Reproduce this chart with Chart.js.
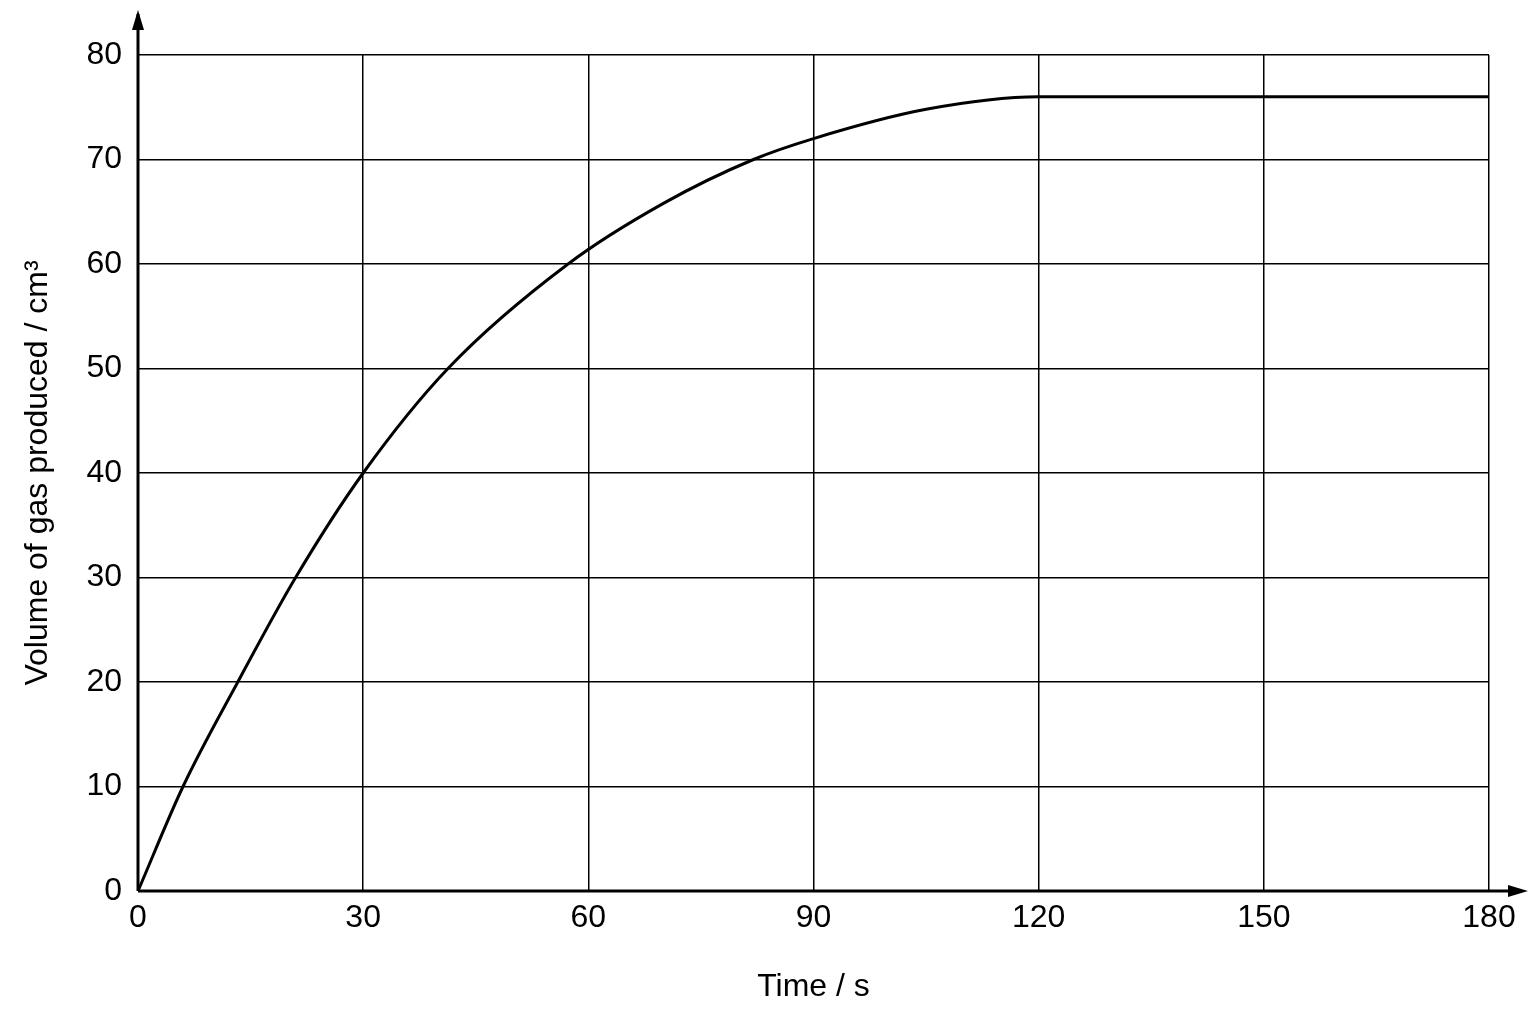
<!DOCTYPE html>
<html>
<head>
<meta charset="utf-8">
<script src="https://cdn.jsdelivr.net/npm/chart.js@4/dist/chart.umd.min.js"></script>
<style>
  html, body { margin: 0; padding: 0; background: #fff; }
  #wrap { width: 1536px; height: 1024px; }
</style>
</head>
<body>
<div id="wrap"><canvas id="c"></canvas></div>
<script>
// time in seconds, volume in cm3
const times = [0, 6, 13.3, 21, 30, 41.3, 57.3, 70, 82, 90, 105, 120, 150, 180];
const volumes = [0, 10, 20, 30, 40, 50, 60, 65.8, 70, 72, 74.8, 76, 76, 76];
const xTicks = [0, 30, 60, 90, 120, 150, 180];
const yTicks = [0, 10, 20, 30, 40, 50, 60, 70, 80];

const FONT = '"Liberation Sans", Arial, sans-serif';

const axesPlugin = {
    id: 'axesArrows',
    afterDraw(chart) {
        const { ctx, chartArea: a } = chart;
        ctx.save();
        ctx.strokeStyle = '#000';
        ctx.fillStyle = '#000';
        ctx.lineWidth = 3;
        ctx.beginPath();
        ctx.moveTo(a.left, a.bottom); ctx.lineTo(a.left, 14);
        ctx.moveTo(a.left, a.bottom); ctx.lineTo(1522, a.bottom);
        ctx.stroke();
        ctx.beginPath();
        ctx.moveTo(a.left, 10); ctx.lineTo(a.left - 6, 30); ctx.lineTo(a.left + 6, 30); ctx.closePath();
        ctx.moveTo(1528, a.bottom); ctx.lineTo(1508, a.bottom - 6); ctx.lineTo(1508, a.bottom + 6); ctx.closePath();
        ctx.fill();
        ctx.font = '32px ' + FONT;
        ctx.textAlign = 'center';
        ctx.textBaseline = 'middle';
        ctx.fillText('Time / s', (a.left + a.right) / 2, 987);
        ctx.translate(38, (a.top + a.bottom) / 2);
        ctx.rotate(-Math.PI / 2);
        ctx.fillText('Volume of gas produced / cm³', 0, 0);
        ctx.restore();
    }
};

new Chart(document.getElementById('c'), {
    type: 'line',
    data: {
        datasets: [{
            data: times.map((t, i) => ({ x: t, y: volumes[i] })),
            borderColor: '#000',
            borderWidth: 3,
            pointRadius: 0,
            cubicInterpolationMode: 'monotone',
            fill: false
        }]
    },
    options: {
        responsive: true,
        maintainAspectRatio: false,
        animation: false,
        layout: { padding: { top: 55, right: 47, left: 0, bottom: 0 } },
        plugins: { legend: { display: false }, tooltip: { enabled: false } },
        scales: {
            x: {
                type: 'linear', min: 0, max: 180,
                afterBuildTicks: s => { s.ticks = xTicks.map(v => ({ value: v })); },
                afterFit: s => { s.height = 133; },
                ticks: { color: '#000', font: { size: 32, family: FONT }, padding: 8 },
                grid: { color: '#000', lineWidth: 1.5, drawTicks: false },
                border: { display: false }
            },
            y: {
                min: 0, max: 80,
                afterBuildTicks: s => { s.ticks = yTicks.map(v => ({ value: v })); },
                afterFit: s => { s.width = 138; },
                ticks: { color: '#000', font: { size: 32, family: FONT }, padding: 16 },
                grid: { color: '#000', lineWidth: 1.5, drawTicks: false },
                border: { display: false }
            }
        }
    },
    plugins: [axesPlugin]
});
</script>
</body>
</html>
